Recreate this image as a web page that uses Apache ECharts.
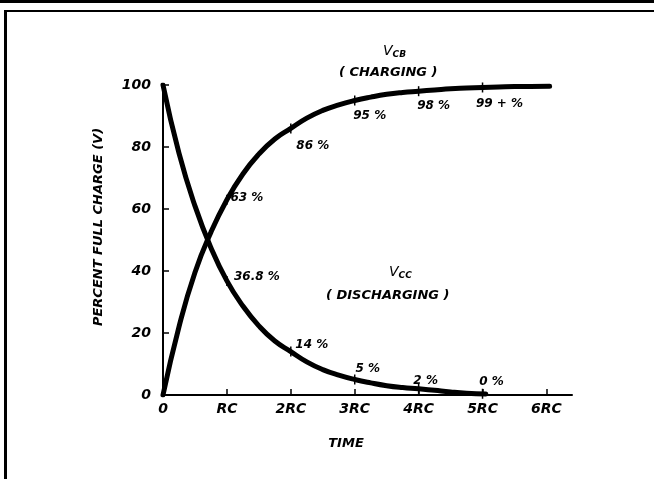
<!DOCTYPE html>
<html>
<head>
<meta charset="utf-8">
<script src="https://cdn.jsdelivr.net/npm/echarts@6/dist/echarts.min.js"></script>
<style>
  html, body { margin: 0; padding: 0; background: #fff; }
  #chart { width: 654px; height: 479px; }
</style>
</head>
<body>
<div id="chart"></div>
<script>
  // time in RC units, values in percent of full charge
  var chargeTime = [0, 0.25, 0.5, 0.75, 1, 1.25, 1.5, 1.75, 2, 2.25, 2.5, 2.75, 3, 3.25, 3.5, 3.75, 4, 4.25, 4.5, 4.75, 5, 5.25, 5.5, 5.75, 6.05];
  var chargeValues = [0, 22, 39.5, 52.5, 63, 71.3, 77.7, 82.6, 86, 89.3, 91.8, 93.6, 95, 96.1, 97, 97.6, 98, 98.4, 98.8, 99, 99.2, 99.35, 99.5, 99.55, 99.6];

  var dischargeTime = [0, 0.25, 0.5, 0.75, 1, 1.25, 1.5, 1.75, 2, 2.25, 2.5, 2.75, 3, 3.25, 3.5, 3.75, 4, 4.25, 4.5, 4.75, 5.05];
  var dischargeValues = [100, 78, 61, 47.5, 36.8, 28.7, 22.3, 17.4, 14, 10.7, 8.2, 6.4, 5, 3.9, 3, 2.4, 2, 1.5, 1, 0.6, 0.3];

  // marked points on the curves
  var chargeMarkTime = [1, 2, 3, 4, 5];
  var chargeMarkValues = [63, 86, 95, 98, 99.2];
  var chargeMarkLabels = ['63 %', '86 %', '95 %', '98 %', '99 + %'];

  var dischargeMarkTime = [1, 2, 3, 4, 5];
  var dischargeMarkValues = [36.8, 14, 5, 2, 0.4];
  var dischargeMarkLabels = ['36.8 %', '14 %', '5 %', '2 %', '0 %'];

  var xTickValues = [0, 1, 2, 3, 4, 5, 6];
  var xTickLabels = ['0', 'RC', '2RC', '3RC', '4RC', '5RC', '6RC'];
  var yTickLabels = ['0', '20', '40', '60', '80', '100'];

  var FONT = 'DejaVu Sans';

  // label offsets from the marked point (px)
  var chargeOffsets = [[20, -2], [22, 17], [15, 15], [15, 15], [17, 16]];
  var dischargeOffsets = [[30, -4], [21, -7], [13, -11], [7, -8], [9, -12]];

  function pairs(xs, ys) {
    return xs.map(function (x, i) { return [x, ys[i]]; });
  }

  function marks(xs, ys, labels, offsets) {
    return xs.map(function (x, i) {
      return {
        value: [x, ys[i]],
        label: { offset: offsets[i], formatter: labels[i] }
      };
    });
  }

  var lineStyle = { color: '#000', width: 5, cap: 'round', join: 'round' };
  var markLabel = {
    show: true,
    position: 'inside',
    color: '#000',
    fontFamily: FONT,
    fontStyle: 'italic',
    fontWeight: 'bold',
    fontSize: 12
  };

  var chart = echarts.init(document.getElementById('chart'), null, { renderer: 'canvas' });
  chart.setOption({
    animation: false,
    backgroundColor: '#fff',
    grid: { left: 163, right: 82, top: 85, bottom: 84, outerBoundsMode: 'none' },
    xAxis: {
      type: 'value',
      min: 0,
      max: 6.4,
      interval: 1,
      name: 'TIME',
      nameLocation: 'middle',
      nameGap: 42,
      nameTextStyle: {
        color: '#000', fontFamily: FONT, fontStyle: 'italic', fontWeight: 'bold',
        fontSize: 13, padding: [0, 43, 0, 0]
      },
      axisLine: { lineStyle: { color: '#000', width: 2 } },
      axisTick: { show: true, inside: true, length: 6, customValues: xTickValues, lineStyle: { color: '#000', width: 1.5 } },
      axisLabel: {
        customValues: xTickValues,
        margin: 7,
        color: '#000', fontFamily: FONT, fontStyle: 'italic', fontWeight: 'bold', fontSize: 14,
        formatter: function (v) { return xTickLabels[Math.round(v)]; }
      },
      splitLine: { show: false }
    },
    yAxis: {
      type: 'value',
      min: 0,
      max: 100,
      interval: 20,
      name: 'PERCENT FULL CHARGE (V)',
      nameLocation: 'middle',
      nameRotate: 90,
      nameGap: 58,
      nameTextStyle: {
        color: '#000', fontFamily: FONT, fontStyle: 'italic', fontWeight: 'bold',
        fontSize: 13, padding: [0, 0, 0, 26]
      },
      axisLine: { show: true, lineStyle: { color: '#000', width: 2 } },
      axisTick: { show: true, inside: true, length: 6, lineStyle: { color: '#000', width: 1.5 } },
      axisLabel: {
        margin: 12,
        color: '#000', fontFamily: FONT, fontStyle: 'italic', fontWeight: 'bold', fontSize: 14,
        formatter: function (v) { return yTickLabels[Math.round(v / 20)]; }
      },
      splitLine: { show: false }
    },
    series: [
      {
        name: 'charging',
        type: 'line',
        smooth: 0.5,
        showSymbol: false,
        lineStyle: lineStyle,
        data: pairs(chargeTime, chargeValues),
        z: 3
      },
      {
        name: 'discharging',
        type: 'line',
        smooth: 0.5,
        showSymbol: false,
        lineStyle: lineStyle,
        data: pairs(dischargeTime, dischargeValues),
        z: 3
      },
      {
        name: 'charging marks',
        type: 'scatter',
        symbol: 'rect',
        symbolSize: [1.5, 10],
        itemStyle: { color: '#000', opacity: 1 },
        label: markLabel,
        data: marks(chargeMarkTime, chargeMarkValues, chargeMarkLabels, chargeOffsets),
        z: 4
      },
      {
        name: 'discharging marks',
        type: 'scatter',
        symbol: 'rect',
        symbolSize: [1.5, 10],
        itemStyle: { color: '#000', opacity: 1 },
        label: markLabel,
        data: marks(dischargeMarkTime, dischargeMarkValues, dischargeMarkLabels, dischargeOffsets),
        z: 4
      }
    ],
    graphic: [
      // scanned page frame
      { type: 'rect', shape: { x: 0, y: 0, width: 654, height: 3 }, style: { fill: '#000' } },
      { type: 'rect', shape: { x: 5, y: 10, width: 649, height: 2 }, style: { fill: '#000' } },
      { type: 'rect', shape: { x: 4, y: 10, width: 3, height: 469 }, style: { fill: '#000' } },
      {
        type: 'text', left: 383, top: 44,
        style: {
          text: '{v|V}{s|CB}',
          rich: {
            v: { fontFamily: FONT, fontStyle: 'italic', fontSize: 14, fill: '#000' },
            s: { fontFamily: FONT, fontStyle: 'italic', fontWeight: 'bold', fontSize: 9, fill: '#000', padding: [8, 0, 0, 0] }
          }
        }
      },
      {
        type: 'text', left: 339, top: 66,
        style: { text: '( CHARGING )', fontFamily: FONT, fontStyle: 'italic', fontWeight: 'bold', fontSize: 13, fill: '#000' }
      },
      {
        type: 'text', left: 389, top: 265,
        style: {
          text: '{v|V}{s|CC}',
          rich: {
            v: { fontFamily: FONT, fontStyle: 'italic', fontSize: 14, fill: '#000' },
            s: { fontFamily: FONT, fontStyle: 'italic', fontWeight: 'bold', fontSize: 9, fill: '#000', padding: [8, 0, 0, 0] }
          }
        }
      },
      {
        type: 'text', left: 326, top: 289,
        style: { text: '( DISCHARGING )', fontFamily: FONT, fontStyle: 'italic', fontWeight: 'bold', fontSize: 13, fill: '#000' }
      }
    ]
  });
</script>
</body>
</html>
